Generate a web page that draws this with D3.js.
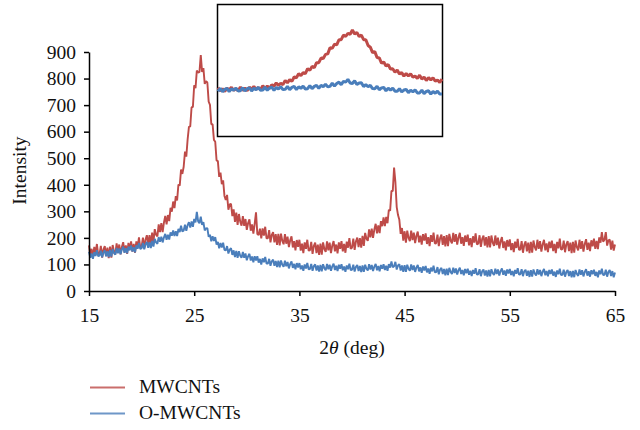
<!DOCTYPE html>
<html><head><meta charset="utf-8">
<script src="https://cdn.jsdelivr.net/npm/d3@7"></script>
<style>body{margin:0;background:#fff}svg{display:block}text{font-family:"Liberation Serif","DejaVu Serif",serif;fill:#111}</style>
</head><body><svg id="c" width="640" height="430"></svg>
<script>
// 2θ grid: 15 to 65 in steps of 0.125
const angleStart = 15, angleStep = 0.125;
const xTicks = [15, 25, 35, 45, 55, 65];
const yTicks = [0, 100, 200, 300, 400, 500, 600, 700, 800, 900];
const seriesNames = ["MWCNTs", "O-MWCNTs"];
const mwcnts = [
172,132,159,125,166,142,177,136, 138,170,126,157,169,131,163,124, 167,126,173,148,138,179,145,175,
138,166,184,145,172,140,181,158, 187,148,177,144,187,165,202,162, 166,201,161,194,210,175,210,174,
220,183,233,212,206,251,222,256, 222,258,283,251,286,263,313,299, 337,312,357,341,401,397,457,441,
468,525,506,571,618,620,692,693, 775,764,830,823,824,888,825,839, 780,790,785,713,701,628,628,569,
562,492,489,430,446,402,417,358, 343,362,306,326,328,282,307,260, 295,249,290,261,246,282,245,271,
230,256,270,227,251,216,254,296, 215,211,235,198,236,209,242,198, 198,229,183,211,222,183,214,174,
215,172,216,189,176,214,178,205, 165,191,206,164,188,153,192,166, 193,152,178,143,183,159,193,152,
153,185,140,170,182,143,175,136, 178,137,183,158,147,187,153,182, 143,171,188,149,175,142,183,159,
188,149,177,144,186,163,199,159, 163,197,155,187,201,165,199,163, 208,170,219,197,189,232,202,235,
200,232,253,217,247,218,263,244, 277,244,279,255,306,302,377,376, 465,410,316,286,268,215,237,190,
225,182,227,200,188,227,192,220, 180,208,224,183,208,175,214,190, 217,177,203,169,210,185,220,179,
180,212,169,199,212,174,207,168, 210,169,215,190,179,219,185,214, 175,202,219,178,203,170,209,185,
212,172,199,165,206,182,217,176, 178,210,166,196,209,171,203,164, 207,164,209,182,170,209,173,201,
160,187,203,162,187,153,192,167, 194,154,180,146,186,162,196,155, 156,188,144,174,187,149,182,143,
185,144,190,165,153,193,159,188, 148,176,193,153,179,146,186,162, 190,150,177,143,185,161,197,156,
158,190,146,176,188,150,182,143, 185,144,190,165,153,193,159,188, 148,177,195,155,182,150,191,168,
197,159,189,158,202,182,222,186, 193,222,171,191,193,156,190,152,
175];
const omwcnts = [
148,125,141,121,146,132,154,131, 133,152,127,145,153,131,150,128, 154,130,158,143,137,162,142,160,
138,156,167,144,161,142,167,153, 171,149,165,146,172,159,181,158, 161,181,157,176,185,163,184,162,
189,167,196,183,178,203,185,204, 183,202,215,193,212,194,221,208, 228,207,225,207,234,222,246,224,
228,250,227,248,259,239,262,242, 271,258,298,262,255,280,249,259, 228,236,237,204,212,187,206,188,
203,175,185,161,181,164,182,155, 153,169,141,156,161,136,153,128, 151,125,150,133,125,147,125,141,
116,131,140,115,130,108,131,115, 131,107,121,100,123,108,128,103, 103,121,95,112,118,95,113,90,
114,89,115,99,91,114,93,109, 85,102,111,87,102,82,105,89, 105,82,96,76,100,85,106,82,
83,102,76,94,100,77,96,73, 98,74,101,86,78,102,82,99, 76,93,103,79,95,75,99,84,
101,78,92,72,96,82,103,79, 80,99,73,91,98,75,94,71, 96,72,99,84,77,101,81,98,
75,92,102,78,94,74,98,84, 101,79,95,76,101,88,111,89, 93,110,81,96,101,77,96,72,
97,72,99,84,76,100,79,96, 72,89,98,74,89,69,92,77, 94,70,85,65,88,74,95,70,
71,90,63,81,87,64,83,59, 84,60,87,72,64,88,68,85, 62,78,88,64,79,59,83,67,
84,61,76,56,79,65,86,62, 63,82,56,74,81,58,77,54, 79,55,82,67,60,84,64,81,
58,75,85,61,77,57,81,66, 83,60,75,55,79,65,86,62, 63,82,56,74,80,57,76,53,
78,54,81,66,58,82,62,79, 56,73,83,59,75,55,79,64, 81,58,73,53,77,63,84,60,
61,80,54,72,79,56,75,52, 76,52,79,64,57,81,61,78, 55,72,82,58,74,54,78,63,
80,57,72,52,77,63,84,60, 61,80,54,72,79,56,75,52,
70];
// Inset (magnified view, relative units 0..100, step 1)
const insetStep = 1;
const insetMwcnts = [
36.9,34.4,36.1,34,36.6,35.1,37.2,34.8,36.1,34.5, 37.3,34.8,36.6,34.6,37.2,35.8,37.9,35.6,37,35.5,
38.4,36.1,38.1,36.3,39.2,38.1,40.5,38.6,40.3,39.2, 42.4,40.6,43.1,41.7,45,44.5,47.5,46.1,48.3,47.7,
51.4,50.1,53.1,52.2,56,56,59.5,59.1,62.3,62.7, 67.4,66.9,70.1,69.5,73.5,73.5,77,76.1,78.3,77.7,
80.9,77.9,79.1,76,77,73.5,73.5,69.1,67.8,63.7, 64.4,59.9,59.6,55.5,56.5,53.5,54.5,51.1,51.3,48.7,
50.4,47.3,48.4,45.7,47.7,45.8,47.5,44.8,45.8,43.9, 46.4,43.5,44.9,42.4,44.6,42.8,44.5,41.8,42.8,40.9,
43.4];
const insetOmwcnts = [
34.1,36.3,33.9,35.6,36.3,33.9,36,34.9,36.6,34.4, 34.6,36.8,34.4,36.1,36.8,34.4,36.5,35.4,37.1,34.9,
35.1,37.3,34.9,36.6,37.3,34.9,37,35.9,37.6,35.4, 35.6,37.8,35.4,37.1,37.8,35.4,37.5,36.4,38.1,35.9,
36.1,38.4,36.1,37.9,38.7,36.4,38.6,37.7,39.5,37.5, 37.9,40.3,38.1,40.1,41.1,39.2,41.7,41.1,43.2,40.5,
40.1,42.1,39.3,40.5,40.6,37.7,39.2,37.6,38.7,36.2, 36.1,38,35.3,36.7,37.1,34.5,36.4,35.1,36.6,34.2,
34.1,36.2,33.6,35.1,35.6,33.1,35,33.7,35.2,32.9, 32.9,35,32.4,34,34.5,32,33.9,32.7,34.2,32,
32.1];

const colors = ["#BE4B48", "#4A7EBB"];
const svg = d3.select("#c");
const x = d3.scaleLinear().domain([15, 65]).range([89, 615]);
const y = d3.scaleLinear().domain([0, 900]).range([291, 52]);

const line = d3.line().x((d, i) => x(angleStart + i * angleStep)).y(d => y(d));
[mwcnts, omwcnts].forEach((s, k) => {
  svg.append("path").attr("d", line(s)).attr("fill", "none")
    .attr("stroke", colors[k]).attr("stroke-width", 1.9).attr("stroke-linejoin", "bevel");
});

// axes
const fs = "19.5px";
const gx = svg.append("g").attr("transform", "translate(0,291)")
  .call(d3.axisBottom(x).tickValues(xTicks).tickSize(5).tickSizeOuter(0).tickPadding(12));
const gy = svg.append("g").attr("transform", "translate(89,0)")
  .call(d3.axisLeft(y).tickValues(yTicks).tickSize(5).tickSizeOuter(0).tickPadding(8));
[gx, gy].forEach(g => {
  g.select(".domain").attr("stroke", "#000").attr("stroke-width", 1.5);
  g.selectAll(".tick line").attr("stroke", "#000").attr("stroke-width", 1.5);
  g.selectAll(".tick text").attr("font-size", fs).attr("font-family", '"Liberation Serif", serif').attr("fill", "#111");
});

svg.append("text").attr("transform", "translate(26,170.5) rotate(-90)")
  .attr("text-anchor", "middle").attr("font-size", fs).text("Intensity");
const xt = svg.append("text").attr("x", 352).attr("y", 354).attr("text-anchor", "middle").attr("font-size", fs);
xt.append("tspan").text("2");
xt.append("tspan").attr("font-style", "italic").text("θ");
xt.append("tspan").text(" (deg)");

// inset
const ix = d3.scaleLinear().domain([0, 100]).range([218, 442]);
const iy = d3.scaleLinear().domain([0, 100]).range([136, 5]);
svg.append("rect").attr("x", 217.5).attr("y", 4.5).attr("width", 225).attr("height", 132)
  .attr("fill", "#fff").attr("stroke", "#000").attr("stroke-width", 1.5);
const iline = d3.line().x((d, i) => ix(i * insetStep)).y(d => iy(d));
[insetMwcnts, insetOmwcnts].forEach((s, k) => {
  svg.append("path").attr("d", iline(s)).attr("fill", "none")
    .attr("stroke", colors[k]).attr("stroke-width", 3).attr("stroke-linejoin", "bevel");
});

// legend
seriesNames.forEach((n, k) => {
  const yy = 387.5 + k * 26;
  svg.append("line").attr("x1", 90).attr("x2", 125).attr("y1", yy).attr("y2", yy)
    .attr("stroke", colors[k]).attr("stroke-width", 2).attr("opacity", 0.8);
  svg.append("text").attr("x", 139).attr("y", yy + 5.5).attr("font-size", fs).text(n);
});
</script></body></html>
